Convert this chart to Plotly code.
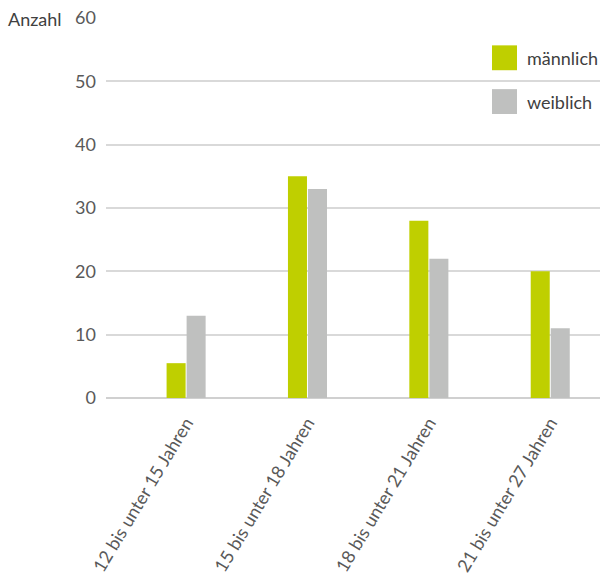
import plotly.graph_objects as go

categories = ["12 bis unter 15 Jahren", "15 bis unter 18 Jahren",
              "18 bis unter 21 Jahren", "21 bis unter 27 Jahren"]
maennlich = [5.5, 35, 28, 20]
weiblich = [13, 33, 22, 11]
series_names = ["männlich", "weiblich"]
colors = ["#BFCF00", "#BFC0BF"]
y_ticks = [0, 10, 20, 30, 40, 50, 60]

W, H = 606, 587
ml, mr, mt, mb = 106, 6, 16, 189
pw, ph = W - ml - mr, H - mt - mb

fig = go.Figure()
for name, vals, col in zip(series_names, [maennlich, weiblich], colors):
    fig.add_trace(go.Bar(x=categories, y=vals, name=name, marker_color=col,
                         marker_line_width=0, showlegend=False))

font_family = "Lato, 'Open Sans', sans-serif"
fig.update_layout(
    width=W, height=H,
    margin=dict(l=ml, r=mr, t=mt, b=mb),
    paper_bgcolor="white", plot_bgcolor="white",
    barmode="group", bargap=0.67, bargroupgap=0.05,
    font=dict(family=font_family, size=18, color="#595959"),
    xaxis=dict(type="category", range=[-0.66, 3.41], tickangle=-59,
               showgrid=False, showline=False, ticks="", zeroline=False,
               ticklabelstandoff=10,
               tickfont=dict(size=18, color="#595959")),
    yaxis=dict(range=[0, 60], tickvals=y_ticks, showgrid=True,
               gridcolor="#D9D9D9", gridwidth=1.5, zeroline=True,
               zerolinecolor="#D0D0D0", zerolinewidth=1.5, ticks="",
               showline=False, ticklabelstandoff=9,
               tickfont=dict(size=18, color="#595959")),
)

def px_x(p):
    return (p - ml) / pw

def px_y(p):
    return 1 - (p - mt) / ph

fig.add_annotation(text="Anzahl", xref="paper", yref="paper",
                   x=px_x(6), y=px_y(17), xanchor="left", yanchor="middle",
                   showarrow=False, font=dict(size=18, color="#404040"))

# legend drawn manually (large swatches)
leg_y = [56, 100]
for name, col, yc in zip(series_names, colors, leg_y):
    fig.add_shape(type="rect", xref="paper", yref="paper",
                  x0=px_x(492), x1=px_x(517), y0=px_y(yc - 12.5), y1=px_y(yc + 12.5),
                  fillcolor=col, line_width=0)
    fig.add_annotation(text=name, xref="paper", yref="paper",
                       x=px_x(525), y=px_y(yc), xanchor="left", yanchor="middle",
                       showarrow=False, font=dict(size=18, color="#404040"))

fig.write_html("out.html")
